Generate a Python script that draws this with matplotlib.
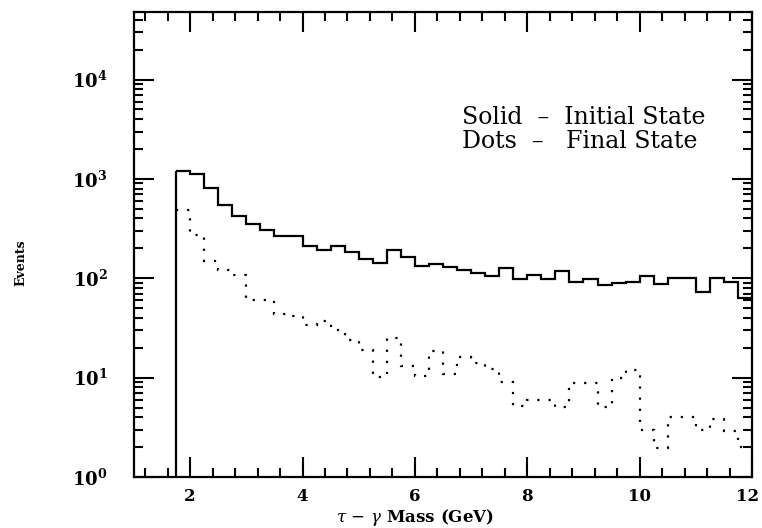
import numpy as np
import matplotlib
matplotlib.use("Agg")
import matplotlib.pyplot as plt
from matplotlib.ticker import MultipleLocator, LogLocator, FixedLocator, NullFormatter
from matplotlib.transforms import ScaledTranslation

plt.rcParams['font.family'] = ['DejaVu Serif']
plt.rcParams['mathtext.fontset'] = 'dejavuserif'

# Histogram binning (GeV)
bin_start = 1.75
bin_width = 0.25
n_bins = 41
edges = bin_start + bin_width * np.arange(n_bins + 1)

# Solid: initial state radiation
initial_state = [1190, 1128, 816, 550, 423, 349, 304, 264, 264, 210,
                 194, 210, 184, 158, 141, 194, 164, 134, 138, 130,
                 120, 114, 105, 128, 98, 107, 98, 118, 91, 99,
                 86, 89, 91, 106, 87, 101, 101, 72, 100, 91, 64]

# Dots: final state radiation
final_state = [490, 275, 148, 120, 107, 60, 60, 44, 42, 34,
               37, 30.5, 24, 19, 10.2, 25, 13, 10.4, 18.5, 11,
               16, 14, 12.2, 9.1, 5.2, 6.0, 6.0, 5.1, 8.9, 8.9,
               5.1, 9.9, 11.9, 3.0, 1.94, 4.0, 4.0, 3.0, 3.8, 2.9, 2.0]

x_major = [2, 4, 6, 8, 10, 12]
y_major = [1, 10, 100, 1000, 10000]
y_labels = [r'$\mathbf{10^{0}}$', r'$\mathbf{10^{1}}$', r'$\mathbf{10^{2}}$',
            r'$\mathbf{10^{3}}$', r'$\mathbf{10^{4}}$']

fig = plt.figure(figsize=(7.62, 5.28), dpi=100)
ax = fig.add_axes([134/762, 1 - 477/528, (752-134)/762, (477-12)/528])

ax.set_yscale('log')
ax.set_xlim(1, 12)
ax.set_ylim(1, 10**4.68)

ax.stairs(initial_state, edges, baseline=None, color='black', linewidth=1.6)
ax.vlines(edges[0], 1, initial_state[0], color='black', linewidth=1.6)
ax.stairs(final_state, edges, baseline=None, color='black', linewidth=1.6,
          linestyle=(0, (1, 4.0)))

ax.xaxis.set_major_locator(FixedLocator(x_major))
ax.xaxis.set_minor_locator(MultipleLocator(0.4))
ax.set_xticklabels([str(v) for v in x_major], fontsize=12, fontweight='bold')
ax.yaxis.set_major_locator(FixedLocator(y_major))
ax.yaxis.set_minor_locator(LogLocator(base=10, subs=np.arange(2, 10), numticks=20))
ax.yaxis.set_minor_formatter(NullFormatter())
ax.set_yticklabels(y_labels, fontsize=13)

ax.tick_params(which='both', direction='in', top=True, right=True, width=1.5, color='black')
ax.tick_params(which='major', length=14.5)
ax.tick_params(which='minor', length=6.5)
ax.tick_params(axis='x', which='major', pad=8)
ax.tick_params(axis='y', which='major', pad=19)

# keep the last x tick label inside the canvas
last = ax.get_xticklabels()[-1]
last.set_transform(last.get_transform() + ScaledTranslation(-4/100, 0, fig.dpi_scale_trans))

for sp in ax.spines.values():
    sp.set_linewidth(1.6)

fig.text(462/762, 1 - 117/528, 'Solid  \u2013  Initial State',
         fontsize=17, va='center', ha='left')
fig.text(462/762, 1 - 142/528, 'Dots  \u2013   Final State',
         fontsize=17, va='center', ha='left')

fig.text(415/762, 1 - 518/528, r'$\tau$ $-$ $\gamma$ Mass (GeV)', fontsize=12,
         fontweight='bold', ha='center', va='center')
fig.text(21/762, 1 - 263/528, 'Events', fontsize=9, fontweight='bold',
         rotation=90, ha='center', va='center')

fig.savefig('out.png', dpi=100)
